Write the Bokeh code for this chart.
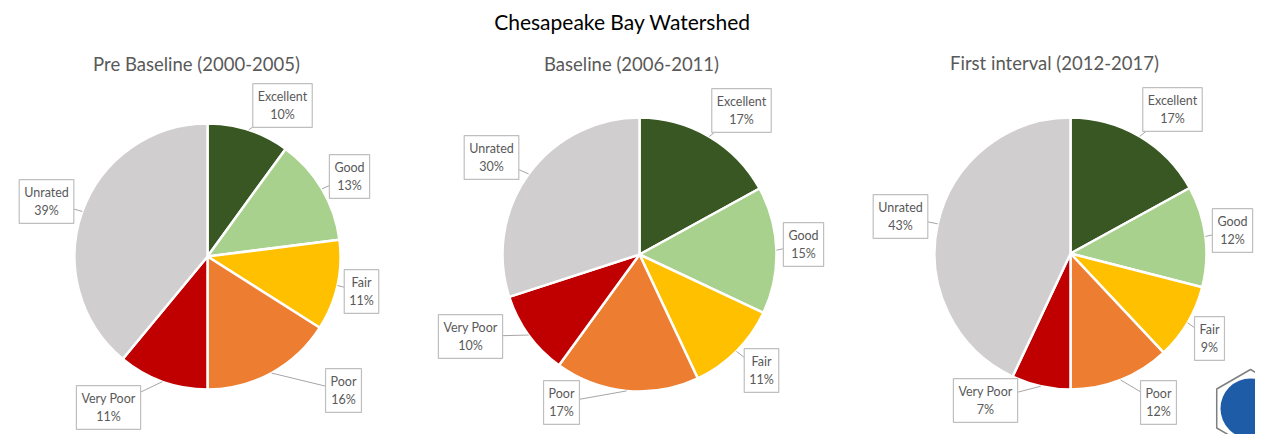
import numpy as np
from bokeh.plotting import figure
from bokeh.models import ColumnDataSource, Label, Range1d
from bokeh.core.properties import value
from bokeh.embed import file_html
from bokeh.resources import INLINE

# ---- data ----
categories = ["Excellent", "Good", "Fair", "Poor", "Very Poor", "Unrated"]
colors = ["#385723", "#a9d18e", "#ffc000", "#ed7d31", "#c00000", "#d0cece"]
pre_baseline = [10, 13, 11, 16, 11, 39]
baseline = [17, 15, 11, 17, 10, 30]
first_interval = [17, 12, 9, 12, 7, 43]
chart_title = "Chesapeake Bay Watershed"
pie_titles = ["Pre Baseline (2000-2005)", "Baseline (2006-2011)", "First interval (2012-2017)"]
series = [pre_baseline, baseline, first_interval]

# ---- layout (reference pixel coordinates) ----
W, H = 1255, 434
centers = [(207, 256), (639, 254), (1070, 253)]
radii = [133, 137, 136]
title_pos = [(196, 63), (631, 63), (1054, 62)]
label_pos = [
    [(282, 105), (349, 176), (361, 291), (343, 390), (108, 407), (46, 201)],
    [(741, 110), (803, 244), (761, 370), (561, 402), (470, 336), (491, 157)],
    [(1172, 109), (1232, 230), (1209, 338), (1158, 402), (985, 400), (900, 216)],
]

p = figure(width=W, height=H, output_backend="svg", toolbar_location=None,
           x_range=Range1d(0, W), y_range=Range1d(-H, 0),
           min_border=0, background_fill_color="white")
p.axis.visible = False
p.grid.visible = False
p.outline_line_color = None

FONT = "Lato"

for k, vals in enumerate(series):
    cx, cy = centers[k]
    r = radii[k]
    v = np.array(vals, dtype=float)
    frac = v / v.sum()
    cum_end = np.cumsum(frac)
    cum_start = cum_end - frac
    start = np.pi / 2 - cum_end * 2 * np.pi
    end = np.pi / 2 - cum_start * 2 * np.pi
    src = ColumnDataSource(dict(x=[cx] * len(v), y=[-cy] * len(v), start=start, end=end,
                                color=colors, cat=categories))
    p.wedge(x="x", y="y", radius=r, start_angle="start", end_angle="end",
            direction="anticlock", fill_color="color", line_color="white",
            line_width=2.5, source=src)

    mid = np.pi / 2 - (cum_start + frac / 2) * 2 * np.pi
    ax = cx + r * np.cos(mid)
    ay = -cy + r * np.sin(mid)
    lx = [q[0] for q in label_pos[k]]
    ly = [-q[1] for q in label_pos[k]]
    p.segment(x0=ax, y0=ay, x1=lx, y1=ly, line_color="#a6a6a6", line_width=1)

    texts = [f"{c}\n{int(round(val))}%" for c, val in zip(categories, vals)]
    lsrc = ColumnDataSource(dict(x=lx, y=ly, text=texts))
    p.text(x="x", y="y", text="text", source=lsrc, text_font=value(FONT),
           text_font_size=value("12.5px"), text_color="#595959",
           text_align="center", text_baseline="middle", text_line_height=1.25,
           background_fill_color="white", border_line_color="#bfbfbf",
           border_line_width=1.2, padding=5)

    tx, ty = title_pos[k]
    p.add_layout(Label(x=tx, y=-ty, text=pie_titles[k], text_align="center",
                       text_baseline="middle", text_font=FONT,
                       text_font_size="18.5px", text_color="#595959"))

p.add_layout(Label(x=622, y=-21, text=chart_title, text_align="center",
                   text_baseline="middle", text_font=FONT,
                   text_font_size="21px", text_color="#000000"))

# decorative logo (approximation) at bottom right
p.scatter(x=[1250], y=[-408], marker="hex", size=78, angle=np.pi / 2,
          fill_color="white", line_color="#7f7f7f", line_width=1.5)
p.scatter(x=[1250], y=[-408], marker="circle", size=60,
          fill_color="#1f5ca8", line_color=None)

open("out.html", "w").write(file_html(p, INLINE))
